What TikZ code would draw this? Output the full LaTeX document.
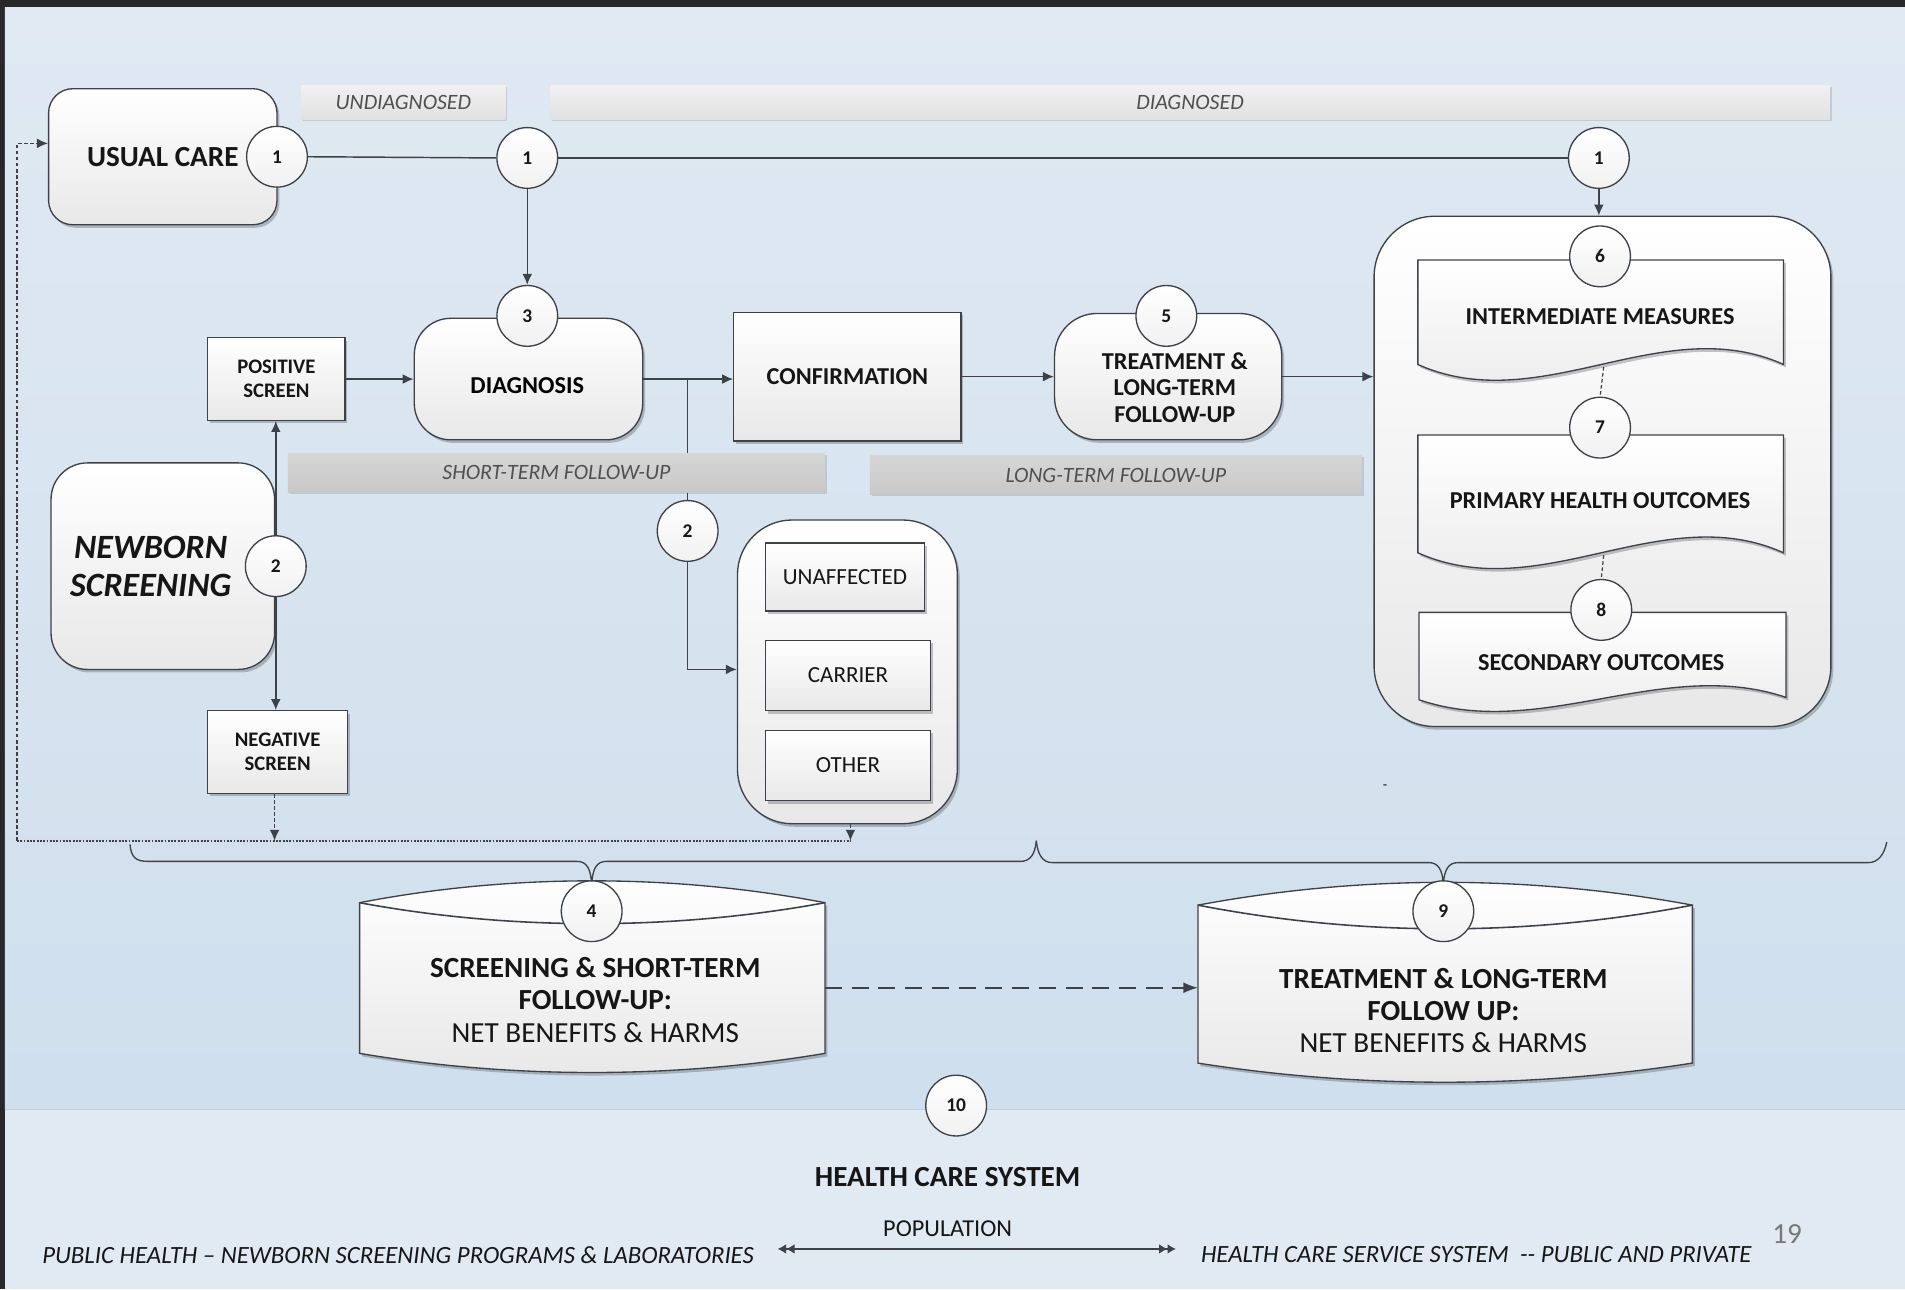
\documentclass[tikz,border=0pt]{standalone}
\usepackage{fontspec}
\setmainfont{Carlito}
\usetikzlibrary{arrows.meta,shadows,calc}
\definecolor{bordc}{RGB}{40,40,42}
\definecolor{bgtop}{RGB}{224,233,242}
\definecolor{bgbot}{RGB}{207,223,237}
\definecolor{bandc}{RGB}{225,234,243}
\definecolor{bandline}{RGB}{192,207,222}
\definecolor{linec}{RGB}{62,66,72}
\definecolor{boxbot}{RGB}{232,232,232}
\definecolor{txtc}{RGB}{22,22,22}
\definecolor{bantxt}{RGB}{80,80,80}
\definecolor{banlta}{RGB}{241,241,241}
\definecolor{banltb}{RGB}{225,225,225}
\definecolor{bandka}{RGB}{214,214,214}
\definecolor{bandkb}{RGB}{200,200,200}
\definecolor{pagenum}{RGB}{120,120,120}
\tikzset{
  shd/.style={drop shadow={shadow xshift=2pt,shadow yshift=-2.5pt,opacity=0.22,fill=black}},
  boxbase/.style={draw=linec,line width=1.1pt,top color=white,bottom color=boxbot,inner sep=0pt,align=center,text=txtc},
  sqbox/.style={boxbase,shd,rectangle},
  rndbox/.style={boxbase,shd,rectangle,rounded corners=#1},
  bfl/.style={font=\bfseries\fontsize{20}{22}\selectfont},
  num/.style={circle,draw=linec,line width=1.1pt,top color=white,bottom color=boxbot!60,minimum size=50pt,inner sep=0pt,font=\bfseries\fontsize{16}{16}\selectfont,text=txtc},
  conn/.style={draw=linec,line width=1.2pt},
  arr/.style={conn,-{Latex[length=9pt,width=8pt]}},
  dotl/.style={draw=linec,line width=1.6pt,dash pattern=on 1.5pt off 1.2pt},
  dashl/.style={draw=linec,line width=1pt,dash pattern=on 3pt off 2pt},
  darr/.style={dashl,-{Latex[length=9pt,width=8pt]}},
  docsh/.style={draw=linec,line width=1.1pt,top color=white,bottom color=boxbot,shd},
  lensarc/.style={draw=linec,line width=1.3pt},
  bannerlt/.style={rectangle,top color=banlta,bottom color=banltb,inner sep=0pt,text=bantxt,font=\itshape\fontsize{18}{18}\selectfont,drop shadow={shadow xshift=1.5pt,shadow yshift=-1.5pt,opacity=0.12,fill=black}},
  bannerdk/.style={bannerlt,top color=bandka,bottom color=bandkb},
  brace/.style={draw=linec,line width=1.1pt},
}
\begin{document}
\begin{tikzpicture}[x=1pt,y=-1pt]
\useasboundingbox (0,0) rectangle (1568,1061);
% background
\fill[bordc] (0,0) rectangle (1568,1061);
\shade[top color=bgtop,bottom color=bgbot] (4,6) rectangle (1568,913);
\fill[bandc] (4,913) rectangle (1568,1061);
\draw[bandline,line width=1pt] (4,913) -- (1568,913);

% braces
\draw[brace] (107,695) .. controls (108,706) and (112,709) .. (122,709) -- (475,709)
  .. controls (483,709) and (486,715) .. (487,727) .. controls (488,715) and (491,709) .. (499,709)
  -- (840,709) .. controls (848,709) and (852,703) .. (853,692);
\draw[brace] (853,692) .. controls (854,703) and (858,710) .. (866,710) -- (1176,710)
  .. controls (1184,710) and (1187,716) .. (1188,727) .. controls (1189,716) and (1192,710) .. (1200,710)
  -- (1538,710) .. controls (1546,710) and (1551,703) .. (1553,693);

% boxes
\node[rndbox=20,minimum width=188pt,minimum height=112pt,font=\bfseries\fontsize{24}{26}\selectfont] (usual) at (134,129) {USUAL CARE};
\node[sqbox,minimum width=113pt,minimum height=68pt,font=\bfseries\fontsize{17}{20}\selectfont] (pos) at (227.5,312) {POSITIVE\\SCREEN};
\node[rndbox=30,minimum width=188pt,minimum height=100pt] (diag) at (435,312) {};
\node[bfl] (diaglbl) at (434,317) {DIAGNOSIS};
\node[rndbox=30,minimum width=184pt,minimum height=170pt] (newborn) at (134,466) {};
\node[align=center,text=txtc,font=\bfseries\itshape\fontsize{28}{31}\selectfont] (nblbl) at (124,466) {NEWBORN\\SCREENING};
\node[sqbox,minimum width=115pt,minimum height=68pt,font=\bfseries\fontsize{17}{20}\selectfont] (neg) at (228.5,619) {NEGATIVE\\SCREEN};
\node[sqbox,bfl,minimum width=187pt,minimum height=106pt] (conf) at (697.5,310) {CONFIRMATION};
\node[rndbox=35,minimum width=187pt,minimum height=104pt] (treat) at (961.5,310) {};
\node[bfl,align=center,text=txtc] (treatlbl) at (967,319) {TREATMENT \&\\LONG-TERM\\FOLLOW-UP};
\node[rndbox=45,minimum width=181pt,minimum height=250pt] (outc) at (697.5,553) {};
\node[sqbox,minimum width=131pt,minimum height=56pt,font=\fontsize{19}{20}\selectfont] (unaff) at (695.5,475) {UNAFFECTED};
\node[sqbox,minimum width=136pt,minimum height=58pt,font=\fontsize{19}{20}\selectfont] (carrier) at (698,556) {CARRIER};
\node[sqbox,minimum width=136pt,minimum height=58pt,font=\fontsize{19}{20}\selectfont] (other) at (698,630) {OTHER};
\node[rndbox=50,minimum width=376pt,minimum height=420pt] (big) at (1319,388) {};

% document shapes
\draw[docsh] (1167,214) -- (1468,214) -- (1468,300) .. controls (1368,255) and (1268,345) .. (1167,300) -- cycle;
\draw[docsh] (1167,358) -- (1468,358) -- (1468,455) .. controls (1368,410) and (1268,500) .. (1167,455) -- cycle;
\draw[docsh] (1168,504) -- (1470,504) -- (1470,574) .. controls (1369,540) and (1268,610) .. (1168,576) -- cycle;
\node[bfl,text=txtc] (im) at (1317,261) {INTERMEDIATE MEASURES};
\node[bfl,text=txtc] (pho) at (1317,412) {PRIMARY HEALTH OUTCOMES};
\node[bfl,text=txtc] (so) at (1318,545) {SECONDARY OUTCOMES};
\coordinate (d1b) at (1320,302);
\coordinate (d2b) at (1320,457);

% cylinder shapes
\draw[docsh] (296,743) .. controls (420,719) and (554,719) .. (679,743) -- (679,867) .. controls (554,888) and (420,888) .. (296,867) -- cycle;
\draw[lensarc] (296,743) .. controls (420,766) and (554,766) .. (679,743);
\draw[docsh] (986,745) .. controls (1120,720) and (1258,720) .. (1393,745) -- (1393,875) .. controls (1258,896) and (1120,896) .. (986,875) -- cycle;
\draw[lensarc] (986,745) .. controls (1120,771) and (1258,771) .. (1393,745);
\node[align=center,text=txtc,font=\fontsize{24}{26.5}\selectfont] (s4t) at (490,823) {{\bfseries SCREENING \& SHORT-TERM}\\{\bfseries FOLLOW-UP:}\\NET BENEFITS \& HARMS};
\node[align=center,text=txtc,font=\fontsize{24}{26.5}\selectfont] (s9t) at (1188,832) {{\bfseries TREATMENT \& LONG-TERM}\\{\bfseries FOLLOW UP:}\\NET BENEFITS \& HARMS};
\coordinate (s4e) at (679,813);
\coordinate (s9w) at (986,813);

% number circles
\node[num] (c1a) at (228,129) {1};
\node[num] (c1b) at (434,130) {1};
\node[num] (c1c) at (1316,130) {1};
\node[num] (c3) at (434,260) {3};
\node[num] (c2a) at (227,466) {2};
\node[num] (c2b) at (566,437) {2};
\node[num] (c5) at (960,260) {5};
\node[num] (c6) at (1317,211) {6};
\node[num] (c7) at (1317,352) {7};
\node[num] (c8) at (1318,502) {8};
\node[num] (c4) at (487,750) {4};
\node[num] (c9) at (1188,750) {9};
\node[num] (c10) at (787,910) {10};

% connectors
\draw[conn] (c1a.east) -- (c1b.west);
\draw[conn] (c1b.east) -- (c1c.west);
\draw[arr] (c1b.south) -- (c3.north);
\draw[arr] (c1c.south) -- (big.north -| c1c.south);
\draw[arr] (pos.east) -- (diag.west |- pos.east);
\draw[arr] (c2a.north) -- (pos.south -| c2a.north);
\draw[arr] (c2a.south) -- (neg.north -| c2a.south);
\draw[arr] (diag.east) -- (diag.east -| conf.west);
\coordinate (br) at (566,312);
\draw[conn] (br) -- (c2b.north);
\coordinate (cbend) at (566,551);
\draw[arr] (c2b.south) -- (cbend) -- (cbend -| outc.west);
\draw[arr] (conf.east) -- (treat.west |- conf.east);
\draw[arr] (treat.east) -- (treat.east -| big.west);
\draw[dashl] (d1b) -- (c7.north);
\draw[dashl] (d2b) -- (c8.north);
\draw[dashl,-{Latex[length=12pt,width=9pt]},dash pattern=on 14pt off 8pt,line width=1.3pt] (s4e) -- (s9w);
% feedback loop
\coordinate (fbneg) at (226,692);
\coordinate (fbout) at (700,692);
\coordinate (fbleft) at (14,692);
\coordinate (fbtop) at (14,118);
\draw[darr] (neg.south -| fbneg) -- (fbneg);
\draw[darr] (outc.south -| fbout) -- (fbout);
\draw[dotl] (fbleft) -- (fbout);
\draw[darr] (fbleft) -- (fbtop) -- (fbtop -| usual.west);

% banners
\node[bannerlt,minimum width=168pt,minimum height=28pt] (undiag) at (332,84) {UNDIAGNOSED};
\node[bannerlt,minimum width=1053pt,minimum height=28pt] (diagd) at (979.5,84) {DIAGNOSED};
\node[bannerdk,minimum width=442pt,minimum height=32pt] (short) at (458,389) {SHORT-TERM FOLLOW-UP};
\node[bannerdk,minimum width=405pt,minimum height=32pt] (long) at (918.5,391) {LONG-TERM FOLLOW-UP};

% health care system
\node[text=txtc,font=\bfseries\fontsize{24}{24}\selectfont] (hcs) at (780,969) {HEALTH CARE SYSTEM};
\node[text=txtc,font=\fontsize{20}{20}\selectfont] (pop) at (780,1011) {POPULATION};
\node[anchor=east,text=txtc,font=\itshape\fontsize{20.4}{20.4}\selectfont] (ph) at (624,1033) {PUBLIC HEALTH – NEWBORN SCREENING PROGRAMS \& LABORATORIES};
\node[anchor=west,text=txtc,font=\itshape\fontsize{20.4}{20.4}\selectfont] (hcss) at (985,1033) {HEALTH CARE SERVICE SYSTEM \ -{}- PUBLIC AND PRIVATE};
\coordinate (popl) at (640,1028);
\coordinate (popr) at (968,1028);
\draw[conn,{Latex[length=7pt,width=8pt]Latex[length=7pt,width=8pt]}-{Latex[length=7pt,width=8pt]Latex[length=7pt,width=8pt]}] (popl) -- (popr);
\node[text=pagenum,font=\fontsize{24}{24}\selectfont] (pg) at (1471,1016) {19};
\node[text=txtc,font=\fontsize{12}{12}\selectfont] (mark) at (1140,648) {-};
\end{tikzpicture}
\end{document}
